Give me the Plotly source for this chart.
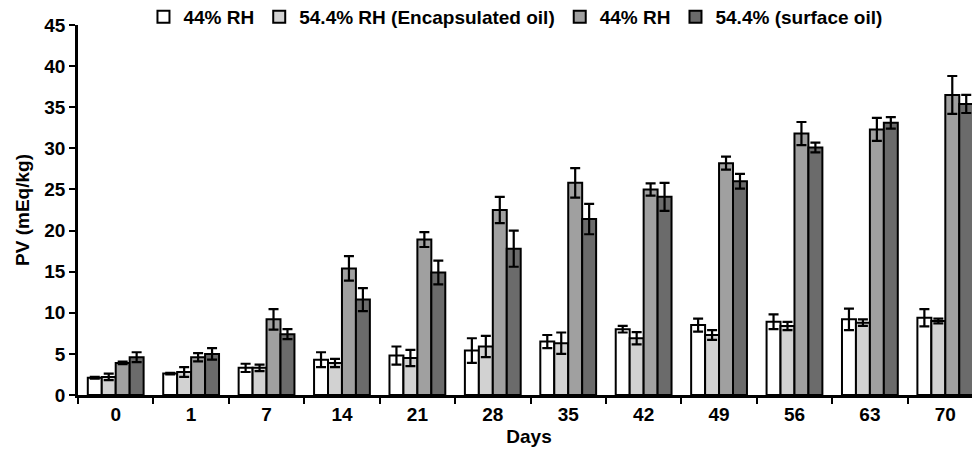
import plotly.graph_objects as go

days = ["0", "1", "7", "14", "21", "28", "35", "42", "49", "56", "63", "70"]

enc_44 = [2.1, 2.6, 3.3, 4.3, 4.8, 5.4, 6.5, 8.0, 8.5, 8.9, 9.2, 9.4]
enc_44_err = [0.1, 0.1, 0.5, 0.9, 1.1, 1.5, 0.8, 0.4, 0.8, 0.9, 1.3, 1.05]
enc_544 = [2.2, 2.8, 3.3, 3.9, 4.5, 5.9, 6.3, 6.9, 7.3, 8.4, 8.8, 9.0]
enc_544_err = [0.4, 0.6, 0.4, 0.5, 1.0, 1.3, 1.3, 0.75, 0.6, 0.5, 0.4, 0.3]
surf_44 = [3.9, 4.6, 9.2, 15.4, 18.9, 22.5, 25.8, 25.0, 28.2, 31.8, 32.3, 36.5]
surf_44_err = [0.15, 0.5, 1.25, 1.5, 0.9, 1.6, 1.8, 0.75, 0.8, 1.4, 1.4, 2.3]
surf_544 = [4.6, 5.0, 7.4, 11.6, 14.9, 17.8, 21.4, 24.1, 26.0, 30.1, 33.1, 35.4]
surf_544_err = [0.6, 0.7, 0.6, 1.4, 1.45, 2.2, 1.85, 1.7, 0.9, 0.6, 0.7, 1.1]

series_names = ["44% RH", "54.4% RH (Encapsulated oil)", "44% RH", "54.4% (surface oil)"]
series_vals = [enc_44, enc_544, surf_44, surf_544]
series_errs = [enc_44_err, enc_544_err, surf_44_err, surf_544_err]
colors = ["#ffffff", "#d2d2d2", "#a0a0a0", "#6b6b6b"]

FONT = dict(family="Liberation Sans, Arial, sans-serif", size=19, color="black", weight="bold")

fig = go.Figure()
for name, vals, errs, col in zip(series_names, series_vals, series_errs, colors):
    fig.add_trace(go.Bar(
        x=days, y=vals, name=name,
        marker=dict(color=col, line=dict(color="black", width=2)),
        error_y=dict(type="data", array=errs, visible=True, color="black", thickness=2.2, width=5),
    ))

fig.update_layout(
    width=972, height=445,
    margin=dict(l=70, r=0, t=17, b=58, autoexpand=False),
    paper_bgcolor="white", plot_bgcolor="white",
    barmode="group", bargap=0.26, bargroupgap=0,
    font=FONT,
    showlegend=True,
    legend=dict(orientation="h", x=0.485, y=1.022, xanchor="center", yanchor="middle",
                font=FONT, itemwidth=30, tracegroupgap=0, bgcolor="rgba(0,0,0,0)"),
    xaxis=dict(type="category", tickson="boundaries", ticks="outside", ticklen=6, tickwidth=2,
               tickcolor="black", showline=True, linecolor="black", linewidth=2.5,
               range=[-0.5, 11.46], showgrid=False,
               title=dict(text="Days", standoff=7, font=FONT),
               tickfont=FONT),
    yaxis=dict(range=[0, 45], tickvals=[0, 5, 10, 15, 20, 25, 30, 35, 40, 45], ticks="outside",
               ticklen=6, tickwidth=2, tickcolor="black", showline=True, linecolor="black",
               linewidth=2.5, showgrid=False, zeroline=False,
               title=dict(text="PV (mEq/kg)", standoff=10, font=FONT),
               tickfont=FONT),
)

fig.write_html("out.html")
